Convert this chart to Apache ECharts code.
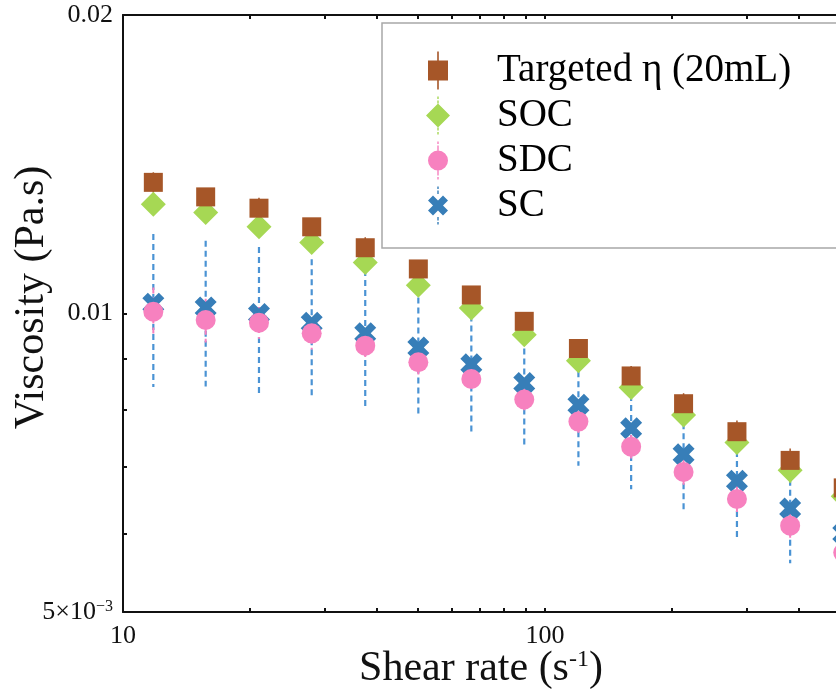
<!DOCTYPE html>
<html>
<head>
<meta charset="utf-8">
<script src="https://cdn.jsdelivr.net/npm/echarts@6/dist/echarts.min.js"></script>
<style>
html,body{margin:0;padding:0;background:#fff;}
#chart{width:836px;height:691px;}
</style>
</head>
<body>
<div id="chart"></div>
<script>
// ---- Data ----
const shearRate = [11.8, 15.7, 21.0, 28.0, 37.5, 50.1, 66.9, 89.3, 120, 160, 213, 285, 381, 509];
const targeted = [0.01356, 0.01311, 0.01277, 0.01223, 0.01165, 0.01109, 0.01044, 0.00982, 0.00922, 0.00865, 0.00811, 0.00760, 0.00711, 0.00667];
const targetedErr = [0.00032, 0.00020, 0.00031, 0.00020, 0.00029, 0.00020, 0.00020, 0.00020, 0.00020, 0.00020, 0.00020, 0.00020, 0.00020, 0.00020];
const soc = [0.01289, 0.01264, 0.01223, 0.01179, 0.01126, 0.01068, 0.01013, 0.00952, 0.00896, 0.00842, 0.00790, 0.00741, 0.00695, 0.00654];
const socErr = [0.00020, 0.00020, 0.00020, 0.00020, 0.00020, 0.00020, 0.00020, 0.00020, 0.00020, 0.00020, 0.00020, 0.00020, 0.00020, 0.00020];
const sdc = [0.01004, 0.00985, 0.00979, 0.00955, 0.00928, 0.00893, 0.00859, 0.00819, 0.00778, 0.00734, 0.00692, 0.00650, 0.00611, 0.00574];
const sdcErr = [0.00058, 0.00050, 0.00036, 0.00035, 0.00032, 0.00025, 0.00020, 0.00020, 0.00020, 0.00020, 0.00020, 0.00020, 0.00020, 0.00020];
const sc = [0.01023, 0.01014, 0.00999, 0.00979, 0.00955, 0.00924, 0.00889, 0.00851, 0.00809, 0.00766, 0.00721, 0.00678, 0.00636, 0.00600];
const scErr = [0.00180, 0.00170, 0.00168, 0.00155, 0.00151, 0.00138, 0.00130, 0.00115, 0.00107, 0.00101, 0.00091, 0.00083, 0.00076, 0.00075];

const seriesNames = ['Targeted η (20mL)', 'SOC', 'SDC', 'SC'];
const xTickValues = [10, 20, 30, 40, 50, 60, 70, 80, 90, 100, 200, 300, 400, 500, 600, 700, 800, 900, 1000];
const xLabelValues = [10, 100, 1000];
const yTickValues = [0.005, 0.006, 0.007, 0.008, 0.009, 0.01, 0.02];
const yLabelValues = [0.005, 0.01, 0.02];

// ---- Styling ----
const FONT = 'Liberation Serif';
const C_TGT = '#A65628', C_SOC = '#A6D854', C_SDC = '#F781BF', C_SC = '#377EB8', C_SCERR = '#4A93D4';

const X_PATH = 'path://M5,0 L10,5 L15,0 L20,5 L15,10 L20,15 L15,20 L10,15 L5,20 L0,15 L5,10 L0,5 Z';
const ICON_SQ = 'path://M9.2,0 H10.8 V9 H20 V29 H10.8 V38 H9.2 V29 H0 V9 H9.2 Z';
const ICON_DI = 'path://M0,19 L12,7 L24,19 L12,31 Z M11.3,0 H12.7 V2.5 H11.3 Z M11.3,4 H12.7 V7 H11.3 Z M11.3,31 H12.7 V34 H11.3 Z M11.3,35.5 H12.7 V38 H11.3 Z';
const ICON_CI = 'path://M0,19 A10,10 0 1,0 20,19 A10,10 0 1,0 0,19 Z M9.3,0 H10.7 V2.5 H9.3 Z M9.3,4 H10.7 V9 H9.3 Z M9.3,29 H10.7 V34 H9.3 Z M9.3,35.5 H10.7 V38 H9.3 Z';
const ICON_X = 'path://M5,9 L10,14 L15,9 L20,14 L15,19 L20,24 L15,29 L10,24 L5,29 L0,24 L5,19 L0,14 Z M9.3,0 H10.7 V2.5 H9.3 Z M9.3,4 H10.7 V7.5 H9.3 Z M9.3,30.5 H10.7 V34 H9.3 Z M9.3,35.5 H10.7 V38 H9.3 Z';

function errData(vals, errs) {
  return shearRate.map((x, i) => [x, vals[i] - errs[i], vals[i] + errs[i]]);
}
function errRender(color, dash, width) {
  return function (params, api) {
    const x = api.value(0), lo = api.value(1), hi = api.value(2);
    const p1 = api.coord([x, hi]);
    const p2 = api.coord([x, lo]);
    return {
      type: 'line',
      shape: { x1: p1[0], y1: p1[1], x2: p2[0], y2: p2[1] },
      style: { stroke: color, lineWidth: width, lineDash: dash, fill: null }
    };
  };
}
function errSeries(name, vals, errs, color, dash, width) {
  return {
    type: 'custom', name: name, xAxisIndex: 0, yAxisIndex: 0,
    data: errData(vals, errs), encode: { x: 0, y: [1, 2] },
    renderItem: errRender(color, dash, width), silent: true
  };
}
function pts(vals) { return shearRate.map((x, i) => [x, vals[i]]); }

const axisLineStyle = { color: '#111', width: 2 };

const option = {
  animation: false,
  backgroundColor: '#fff',
  grid: { left: 123, top: 15, width: 844, height: 597, containLabel: false, outerBoundsMode: 'none' },
  legend: {
    orient: 'vertical', left: 382, top: 23,
    backgroundColor: '#fff', borderColor: '#a8a8a8', borderWidth: 1.5, borderRadius: 0,
    padding: [28, 500, 23, 44],
    itemWidth: 24, itemHeight: 38, itemGap: 6,
    textStyle: { fontFamily: FONT, fontSize: 39, color: '#000', padding: [0, 0, 0, 42] },
    data: [
      { name: seriesNames[0], icon: ICON_SQ },
      { name: seriesNames[1], icon: ICON_DI },
      { name: seriesNames[2], icon: ICON_CI },
      { name: seriesNames[3], icon: ICON_X }
    ]
  },
  xAxis: [
    {
      type: 'log', min: 10, max: 1000, position: 'bottom',
      axisLine: { lineStyle: axisLineStyle },
      splitLine: { show: false },
      axisTick: { inside: true, length: 4, lineStyle: { color: '#111', width: 2 }, customValues: xTickValues },
      minorTick: { show: false },
      axisLabel: {
        customValues: xLabelValues, margin: 11,
        fontFamily: FONT, fontSize: 26, color: '#111',
        formatter: v => String(Math.round(v))
      },
      name: '{t|Shear rate (s}{s|-1}{t|)}', nameLocation: 'middle', nameGap: 36, nameMoveOverlap: false,
      nameTextStyle: {
        padding: [0, 128, 0, 0],
        rich: {
          t: { fontFamily: FONT, fontSize: 42, color: '#111', lineHeight: 42 },
          s: { fontFamily: FONT, fontSize: 24, color: '#111', verticalAlign: 'top', lineHeight: 42 }
        }
      }
    },
    {
      type: 'log', min: 10, max: 1000, position: 'top',
      axisLine: { lineStyle: axisLineStyle },
      splitLine: { show: false },
      axisTick: { inside: true, length: 4, lineStyle: { color: '#111', width: 2 }, customValues: xTickValues },
      axisLabel: { show: false }
    }
  ],
  yAxis: [
    {
      type: 'log', min: 0.005, max: 0.02,
      axisLine: { lineStyle: axisLineStyle },
      splitLine: { show: false },
      axisTick: { inside: true, length: 4, lineStyle: { color: '#111', width: 2 }, customValues: yTickValues },
      axisLabel: {
        customValues: yLabelValues, margin: 10,
        formatter: function (v) {
          if (Math.abs(v - 0.005) < 1e-6) return '{a|5×10}{s|−3}';
          if (Math.abs(v - 0.01) < 1e-6) return '{a|0.01}';
          return '{a|0.02}';
        },
        rich: {
          a: { fontFamily: FONT, fontSize: 26, color: '#111', lineHeight: 26 },
          s: { fontFamily: FONT, fontSize: 16, color: '#111', verticalAlign: 'top', lineHeight: 26 }
        }
      },
      name: 'Viscosity (Pa.s)', nameLocation: 'middle', nameGap: 70, nameRotate: 90, nameMoveOverlap: false,
      nameTextStyle: { fontFamily: FONT, fontSize: 42, color: '#111', lineHeight: 42, padding: [0, 0, 0, 32] }
    }
  ],
  series: [
    errSeries('SC err', sc, scErr, C_SCERR, [6, 4], 2.2),
    { type: 'scatter', name: seriesNames[3], data: pts(sc), symbol: X_PATH, symbolSize: 22, itemStyle: { color: C_SC, opacity: 1 } },
    errSeries('SDC err', sdc, sdcErr, C_SDC, [6, 4], 2),
    { type: 'scatter', name: seriesNames[2], data: pts(sdc), symbol: 'circle', symbolSize: 20, itemStyle: { color: C_SDC, opacity: 1 } },
    errSeries('SOC err', soc, socErr, C_SOC, [6, 4], 2),
    { type: 'scatter', name: seriesNames[1], data: pts(soc), symbol: 'diamond', symbolSize: 25, itemStyle: { color: C_SOC, opacity: 1 } },
    errSeries('Targeted err', targeted, targetedErr, C_TGT, null, 1.5),
    { type: 'scatter', name: seriesNames[0], data: pts(targeted), symbol: 'rect', symbolSize: 19, itemStyle: { color: C_TGT, opacity: 1 } }
  ]
};

const chart = echarts.init(document.getElementById('chart'), null, { renderer: 'canvas' });
chart.setOption(option);
</script>
</body>
</html>
